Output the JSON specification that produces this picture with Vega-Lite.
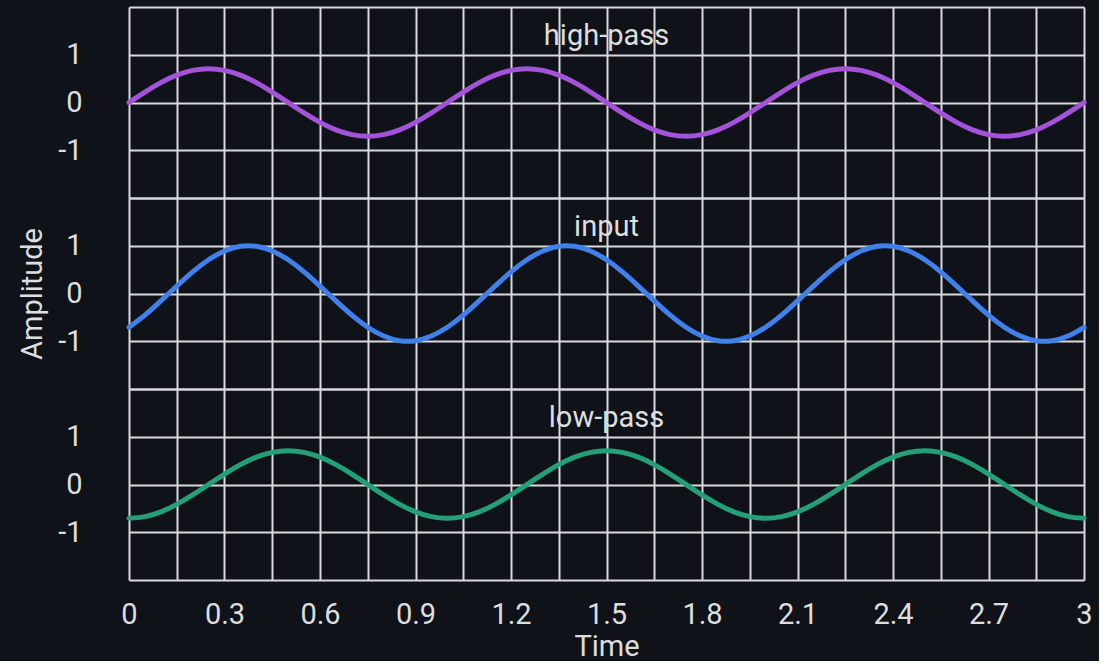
{
  "$schema": "https://vega.github.io/schema/vega-lite/v6.json",
  "background": "#0f1218",
  "padding": {"left": 18, "top": 7, "right": 5, "bottom": 0},
  "config": {
    "font": "Roboto",
    "view": {"stroke": null},
    "axis": {"gridColor": "#d9d9de", "gridWidth": 2, "gridOpacity": 1, "domain": false, "ticks": false, "labelColor": "#dedede", "titleColor": "#dedede", "labelFont": "Roboto", "titleFont": "Roboto", "labelFontSize": 29, "titleFontSize": 29, "titleFontWeight": "normal", "zindex": 1},
    "header": {"titleColor": "#dedede", "titleFont": "Roboto", "titleFontSize": 29, "titleFontWeight": "normal"}
  },
  "data": {"values": [
    {"t": 0, "high-pass": 0, "input": -0.707, "low-pass": -0.707},
    {"t": 0.05, "high-pass": 0.218, "input": -0.454, "low-pass": -0.672},
    {"t": 0.1, "high-pass": 0.416, "input": -0.156, "low-pass": -0.572},
    {"t": 0.15, "high-pass": 0.572, "input": 0.156, "low-pass": -0.416},
    {"t": 0.2, "high-pass": 0.672, "input": 0.454, "low-pass": -0.218},
    {"t": 0.25, "high-pass": 0.707, "input": 0.707, "low-pass": 0},
    {"t": 0.3, "high-pass": 0.672, "input": 0.891, "low-pass": 0.218},
    {"t": 0.35, "high-pass": 0.572, "input": 0.988, "low-pass": 0.416},
    {"t": 0.4, "high-pass": 0.416, "input": 0.988, "low-pass": 0.572},
    {"t": 0.45, "high-pass": 0.218, "input": 0.891, "low-pass": 0.672},
    {"t": 0.5, "high-pass": 0, "input": 0.707, "low-pass": 0.707},
    {"t": 0.55, "high-pass": -0.218, "input": 0.454, "low-pass": 0.672},
    {"t": 0.6, "high-pass": -0.416, "input": 0.156, "low-pass": 0.572},
    {"t": 0.65, "high-pass": -0.572, "input": -0.156, "low-pass": 0.416},
    {"t": 0.7, "high-pass": -0.672, "input": -0.454, "low-pass": 0.218},
    {"t": 0.75, "high-pass": -0.707, "input": -0.707, "low-pass": 0},
    {"t": 0.8, "high-pass": -0.672, "input": -0.891, "low-pass": -0.218},
    {"t": 0.85, "high-pass": -0.572, "input": -0.988, "low-pass": -0.416},
    {"t": 0.9, "high-pass": -0.416, "input": -0.988, "low-pass": -0.572},
    {"t": 0.95, "high-pass": -0.218, "input": -0.891, "low-pass": -0.672},
    {"t": 1, "high-pass": 0, "input": -0.707, "low-pass": -0.707},
    {"t": 1.05, "high-pass": 0.218, "input": -0.454, "low-pass": -0.672},
    {"t": 1.1, "high-pass": 0.416, "input": -0.156, "low-pass": -0.572},
    {"t": 1.15, "high-pass": 0.572, "input": 0.156, "low-pass": -0.416},
    {"t": 1.2, "high-pass": 0.672, "input": 0.454, "low-pass": -0.218},
    {"t": 1.25, "high-pass": 0.707, "input": 0.707, "low-pass": 0},
    {"t": 1.3, "high-pass": 0.672, "input": 0.891, "low-pass": 0.218},
    {"t": 1.35, "high-pass": 0.572, "input": 0.988, "low-pass": 0.416},
    {"t": 1.4, "high-pass": 0.416, "input": 0.988, "low-pass": 0.572},
    {"t": 1.45, "high-pass": 0.218, "input": 0.891, "low-pass": 0.672},
    {"t": 1.5, "high-pass": 0, "input": 0.707, "low-pass": 0.707},
    {"t": 1.55, "high-pass": -0.218, "input": 0.454, "low-pass": 0.672},
    {"t": 1.6, "high-pass": -0.416, "input": 0.156, "low-pass": 0.572},
    {"t": 1.65, "high-pass": -0.572, "input": -0.156, "low-pass": 0.416},
    {"t": 1.7, "high-pass": -0.672, "input": -0.454, "low-pass": 0.218},
    {"t": 1.75, "high-pass": -0.707, "input": -0.707, "low-pass": 0},
    {"t": 1.8, "high-pass": -0.672, "input": -0.891, "low-pass": -0.218},
    {"t": 1.85, "high-pass": -0.572, "input": -0.988, "low-pass": -0.416},
    {"t": 1.9, "high-pass": -0.416, "input": -0.988, "low-pass": -0.572},
    {"t": 1.95, "high-pass": -0.218, "input": -0.891, "low-pass": -0.672},
    {"t": 2, "high-pass": 0, "input": -0.707, "low-pass": -0.707},
    {"t": 2.05, "high-pass": 0.218, "input": -0.454, "low-pass": -0.672},
    {"t": 2.1, "high-pass": 0.416, "input": -0.156, "low-pass": -0.572},
    {"t": 2.15, "high-pass": 0.572, "input": 0.156, "low-pass": -0.416},
    {"t": 2.2, "high-pass": 0.672, "input": 0.454, "low-pass": -0.218},
    {"t": 2.25, "high-pass": 0.707, "input": 0.707, "low-pass": 0},
    {"t": 2.3, "high-pass": 0.672, "input": 0.891, "low-pass": 0.218},
    {"t": 2.35, "high-pass": 0.572, "input": 0.988, "low-pass": 0.416},
    {"t": 2.4, "high-pass": 0.416, "input": 0.988, "low-pass": 0.572},
    {"t": 2.45, "high-pass": 0.218, "input": 0.891, "low-pass": 0.672},
    {"t": 2.5, "high-pass": 0, "input": 0.707, "low-pass": 0.707},
    {"t": 2.55, "high-pass": -0.218, "input": 0.454, "low-pass": 0.672},
    {"t": 2.6, "high-pass": -0.416, "input": 0.156, "low-pass": 0.572},
    {"t": 2.65, "high-pass": -0.572, "input": -0.156, "low-pass": 0.416},
    {"t": 2.7, "high-pass": -0.672, "input": -0.454, "low-pass": 0.218},
    {"t": 2.75, "high-pass": -0.707, "input": -0.707, "low-pass": 0},
    {"t": 2.8, "high-pass": -0.672, "input": -0.891, "low-pass": -0.218},
    {"t": 2.85, "high-pass": -0.572, "input": -0.988, "low-pass": -0.416},
    {"t": 2.9, "high-pass": -0.416, "input": -0.988, "low-pass": -0.572},
    {"t": 2.95, "high-pass": -0.218, "input": -0.891, "low-pass": -0.672},
    {"t": 3, "high-pass": 0, "input": -0.707, "low-pass": -0.707}
  ]},
  "transform": [{"fold": ["high-pass", "input", "low-pass"], "as": ["series", "amp"]}],
  "facet": {
    "row": {"field": "series", "type": "nominal", "sort": ["high-pass", "input", "low-pass"], "title": "Amplitude",
      "header": {"labels": false, "titleOrient": "left", "titlePadding": -1}}
  },
  "spacing": 0,
  "spec": {
    "width": 955,
    "height": 191,
    "layer": [
      {
        "mark": {"type": "line", "strokeWidth": 5, "interpolate": "natural", "strokeCap": "round"},
        "encoding": {
          "x": {"field": "t", "type": "quantitative", "title": "Time",
            "scale": {"domain": [0, 3], "nice": false},
            "axis": {"values": [0, 0.15, 0.3, 0.45, 0.6, 0.75, 0.9, 1.05, 1.2, 1.35, 1.5, 1.65, 1.8, 1.95, 2.1, 2.25, 2.4, 2.55, 2.7, 2.85, 3],
              "labelExpr": "round(datum.value / 0.15) % 2 == 0 ? format(datum.value, '~g') : ''",
              "labelFlush": false, "labelPadding": 20, "titlePadding": 3}},
          "y": {"field": "amp", "type": "quantitative", "title": null,
            "scale": {"domain": [-2, 2], "nice": false, "zero": false},
            "axis": {"values": [-2, -1, 0, 1, 2], "labelExpr": "abs(datum.value) <= 1 ? '' + datum.value : ''", "labelPadding": 37}},
          "color": {"field": "series", "type": "nominal", "legend": null,
            "scale": {"domain": ["high-pass", "input", "low-pass"], "range": ["#a452d9", "#3f80ea", "#23a077"]}}
        }
      },
      {
        "transform": [{"filter": "datum.t == 1.5"}],
        "mark": {"type": "text", "color": "#dedede", "fontSize": 29, "font": "Roboto", "baseline": "middle", "align": "center"},
        "encoding": {
          "x": {"datum": 1.5},
          "y": {"datum": 1.4},
          "text": {"field": "series"}
        }
      }
    ]
  }
}
